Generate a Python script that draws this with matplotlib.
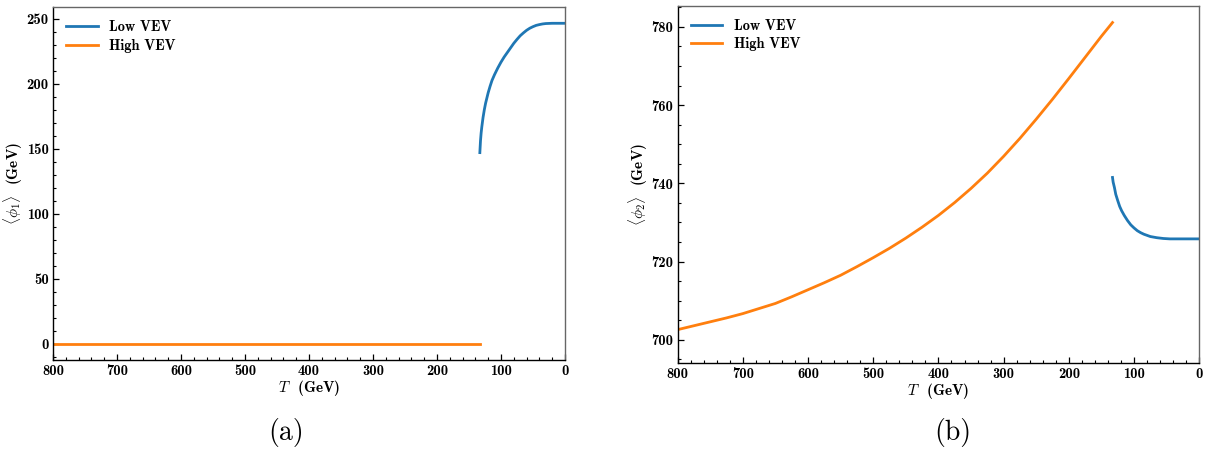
import matplotlib
matplotlib.use("Agg")
import matplotlib.pyplot as plt
from matplotlib.ticker import MultipleLocator

plt.rcParams["font.family"] = ["cmb10", "DejaVu Serif"]
plt.rcParams["mathtext.fontset"] = "cm"
plt.rcParams["axes.unicode_minus"] = False

# phi_1 (left panel)
low1_T = [133, 132, 131, 130, 128, 126, 124, 122, 120, 117, 114, 110, 105, 100, 95, 90, 85, 80,
          75, 70, 65, 60, 55, 50, 45, 40, 35, 30, 20, 10, 0]
low1_v = [147, 156, 162, 166.5, 174, 180, 185, 189, 193, 198, 202.5, 207, 212, 216.5, 220.5, 224,
          227.5, 231, 234, 236.8, 239, 241, 242.6, 243.8, 244.8, 245.4, 245.9, 246.2, 246.4, 246.4, 246.4]
high1_T = [800, 600, 400, 200, 133]
high1_v = [0, 0, 0, 0, 0]

# phi_2 (right panel)
low2_T = [133, 132, 130, 128, 125, 122, 119, 115, 110, 105, 100, 95, 90, 85, 80, 75, 65, 55, 45, 30, 15, 0]
low2_v = [741.5, 740.3, 738.9, 737.2, 735.6, 734.1, 733.0, 731.8, 730.5, 729.4, 728.6, 727.9, 727.4,
          727.0, 726.7, 726.4, 726.1, 725.9, 725.8, 725.8, 725.8, 725.8]
high2_T = [800, 775, 750, 725, 700, 675, 650, 625, 600, 575, 550, 525, 500, 475, 450, 425, 400,
           375, 350, 325, 300, 275, 250, 225, 200, 175, 150, 133]
high2_v = [702.6, 703.6, 704.6, 705.6, 706.7, 708.0, 709.3, 711.0, 712.8, 714.6, 716.5, 718.7, 721.0,
           723.4, 726.0, 728.8, 731.8, 735.1, 738.7, 742.6, 746.9, 751.5, 756.4, 761.5, 766.8, 772.2,
           777.6, 781.1]

blue = "#1f77b4"
orange = "#ff7f0e"

fig = plt.figure(figsize=(12.09, 4.5), dpi=100)
ax1 = fig.add_axes([0.0438, 0.200, 0.4235, 0.7838])
ax2 = fig.add_axes([0.5605, 0.1927, 0.4314, 0.7946])


def style(ax, ymaj, ymin):
    ax.set_xlim(800, 0)
    ax.xaxis.set_major_locator(MultipleLocator(100))
    ax.xaxis.set_minor_locator(MultipleLocator(20))
    ax.yaxis.set_major_locator(MultipleLocator(ymaj))
    ax.yaxis.set_minor_locator(MultipleLocator(ymin))
    ax.tick_params(which="both", direction="in", top=False, right=False,
                   labelsize=10.5, pad=3)
    ax.tick_params(which="major", length=4, width=0.9)
    ax.tick_params(which="minor", length=2.2, width=0.8)
    for s in ["left", "bottom"]:
        ax.spines[s].set_color("black")
    for s in ["top", "right"]:
        ax.spines[s].set_color("#666666")
    for s in ax.spines.values():
        s.set_linewidth(1.0)
    ax.set_xlabel(r"$T$  (GeV)", fontsize=11, labelpad=0)
    ax.legend(loc="upper left", frameon=False, fontsize=10.4, handlelength=2.2,
              borderaxespad=0.5, labelspacing=0.3)


ax1.plot(low1_T, low1_v, color=blue, lw=2, label="Low VEV")
ax1.plot(high1_T, high1_v, color=orange, lw=2, label="High VEV")
ax1.set_ylim(-12.4, 258.7)
ax1.set_ylabel(r"$\langle\phi_1\rangle$  (GeV)", fontsize=11, labelpad=1)
style(ax1, 50, 10)

ax2.plot(low2_T, low2_v, color=blue, lw=2, label="Low VEV")
ax2.plot(high2_T, high2_v, color=orange, lw=2, label="High VEV")
ax2.set_ylim(694, 785.4)
ax2.set_ylabel(r"$\langle\phi_2\rangle$  (GeV)", fontsize=11, labelpad=1)
style(ax2, 20, 5)

fig.text(0.237, 0.038, "(a)", family="cmr10", fontsize=20, ha="center", va="center")
fig.text(0.788, 0.038, "(b)", family="cmr10", fontsize=20, ha="center", va="center")

fig.savefig("out.png", dpi=100)
